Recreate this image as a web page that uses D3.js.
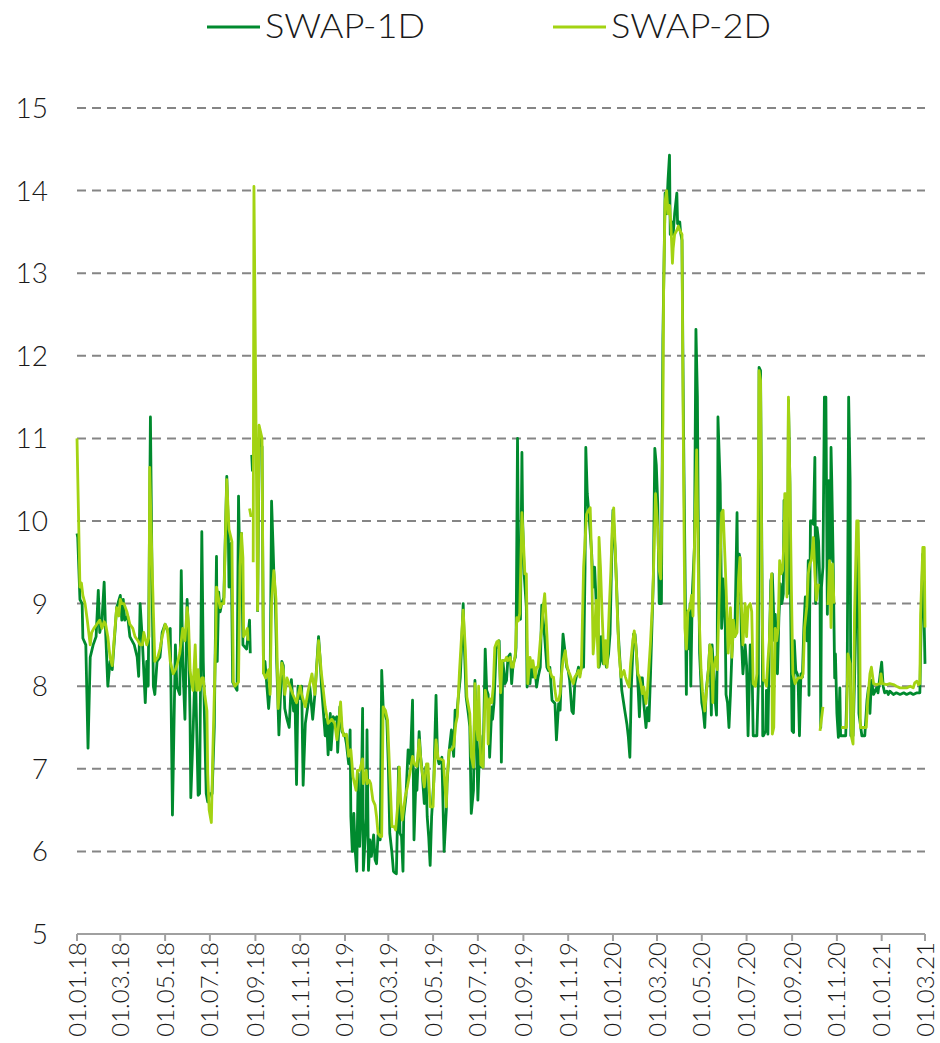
<!DOCTYPE html>
<html>
<head>
<meta charset="utf-8">
<script src="https://cdn.jsdelivr.net/npm/d3@7"></script>
<style>
  html, body { margin: 0; padding: 0; background: #fff; }
  svg text { font-family: "Lato", "Open Sans", sans-serif; font-weight: 300; fill: #1a1a1a; }
</style>
</head>
<body>
<svg id="chart" width="940" height="1043"></svg>
<script>
// Observations are [day offset from 1 Jan 2018, value]; null marks a missing stretch.
const startDate = "2018-01-01";
const endDate = "2021-03-01";
const seriesNames = ["SWAP-1D", "SWAP-2D"];
const yTicks = [5, 6, 7, 8, 9, 10, 11, 12, 13, 14, 15];

const swap1D = [[0,9.85],[1,9.8],[4,9.05],[7,9.0],[8,8.58],[12,8.5],[15,7.25],[18,8.35],[22,8.5],[26,8.6],[29,9.16],[31,8.65],[34,8.8],[37,9.26],[39,8.65],[42,8.0],[45,8.3],[48,8.2],[52,8.7],[54,8.95],[59,9.1],[61,8.8],[63,9.05],[65,8.8],[69,8.85],[72,8.6],[78,8.5],[82,8.35],[84,8.12],[86,9.0],[89,8.55],[93,7.8],[95,8.3],[97,8.0],[100,11.26],[102,9.5],[104,8.0],[106,7.9],[109,8.3],[113,8.35],[116,8.65],[120,8.75],[124,8.65],[127,8.7],[129,7.2],[130,6.44],[134,8.5],[136,8.0],[140,7.9],[142,9.4],[144,8.3],[147,7.6],[150,9.05],[152,8.6],[154,7.6],[155,6.65],[158,7.4],[161,8.3],[165,6.68],[167,6.7],[170,9.87],[172,8.3],[174,7.46],[176,6.7],[178,6.6],[181,6.7],[184,6.7],[187,7.5],[188,8.27],[190,9.57],[191,8.3],[193,9.14],[195,8.9],[197,9.0],[200,9.07],[204,10.54],[206,9.95],[207,9.2],[210,9.73],[212,8.05],[218,7.95],[220,10.3],[222,9.3],[224,9.85],[226,8.5],[231,8.45],[235,8.8],[236,8.4],[237,null],[238,10.8],[239,10.6],[240,null],[246,8.9],[248,11.0],[252,10.9],[254,8.16],[256,8.3],[261,7.73],[263,8.0],[265,10.24],[267,9.7],[268,9.4],[270,9.1],[272,8.3],[275,7.41],[279,8.3],[281,8.25],[283,7.73],[286,7.6],[289,7.5],[292,8.08],[295,7.7],[297,7.8],[299,6.81],[301,8.0],[304,7.85],[306,8.0],[308,6.8],[311,7.55],[315,7.8],[317,8.0],[321,7.6],[324,7.9],[329,8.6],[331,8.35],[333,8.0],[338,7.4],[340,7.6],[342,7.17],[345,7.67],[346,7.23],[349,7.63],[351,7.6],[354,7.63],[355,7.2],[358,7.75],[361,7.45],[365,7.4],[367,7.3],[370,7.06],[372,7.47],[373,6.42],[375,6.0],[377,6.46],[379,6.0],[381,5.76],[383,6.94],[385,6.06],[387,6.5],[389,7.73],[390,5.77],[394,6.4],[395,7.47],[397,5.77],[399,6.14],[401,5.94],[404,6.2],[406,5.9],[408,5.85],[410,6.2],[413,6.14],[415,8.19],[417,7.75],[419,7.67],[422,7.59],[424,7.06],[426,6.22],[429,5.98],[431,5.76],[433,5.74],[435,5.73],[438,7.02],[440,6.22],[442,6.18],[444,5.76],[445,6.42],[448,6.66],[451,7.23],[454,7.06],[457,7.83],[459,6.14],[462,6.98],[463,6.74],[466,7.45],[468,7.15],[470,6.98],[473,6.58],[475,7.02],[477,6.42],[479,6.18],[481,5.83],[483,6.42],[486,6.86],[489,7.89],[491,7.15],[493,7.06],[497,7.14],[500,6.0],[503,6.5],[504,6.82],[507,7.23],[510,7.47],[513,7.15],[515,7.71],[517,7.63],[519,7.83],[522,8.1],[524,8.52],[526,9.0],[527,8.64],[530,7.87],[533,7.67],[535,7.51],[537,6.46],[540,6.74],[542,8.07],[544,7.43],[546,6.62],[549,7.4],[551,7.02],[553,7.02],[556,8.45],[558,7.95],[560,7.9],[562,7.14],[565,7.75],[566,7.6],[568,7.8],[571,8.47],[573,8.47],[575,8.55],[577,7.87],[578,7.08],[580,8.31],[583,8.03],[585,8.07],[587,8.35],[590,8.39],[592,8.03],[594,8.27],[597,8.35],[598,8.47],[600,11.0],[602,8.83],[604,8.81],[606,10.83],[607,10.0],[609,9.36],[612,8.96],[613,7.99],[615,8.31],[617,8.03],[619,8.27],[621,8.11],[624,8.19],[626,7.99],[628,8.11],[631,8.23],[633,8.98],[635,8.79],[637,8.59],[640,8.23],[642,8.19],[644,8.23],[647,7.83],[651,7.79],[653,7.35],[656,7.79],[658,7.71],[660,8.23],[662,8.63],[665,8.39],[667,8.23],[669,8.19],[671,8.07],[674,7.7],[676,7.67],[678,8.03],[681,8.15],[683,8.23],[685,8.15],[687,8.23],[690,8.23],[692,9.44],[693,10.89],[695,10.33],[697,10.12],[701,9.6],[703,9.2],[705,9.44],[707,9.04],[710,8.63],[711,8.23],[713,8.31],[714,8.6],[717,8.27],[719,8.39],[721,8.23],[724,8.39],[726,8.63],[728,9.44],[730,10.13],[733,9.64],[735,9.2],[737,8.67],[740,8.23],[742,7.95],[744,7.83],[746,7.71],[749,7.54],[751,7.38],[753,7.14],[755,7.99],[758,8.63],[760,8.63],[762,8.4],[764,8.03],[766,7.63],[768,8.1],[770,8.1],[772,7.79],[775,7.5],[777,7.74],[779,7.58],[781,8.1],[783,8.7],[785,9.3],[787,10.88],[789,10.68],[791,10.2],[792,9.55],[793,9.0],[796,9.0],[798,12.2],[801,13.97],[803,13.72],[805,14.13],[807,14.43],[808,13.47],[810,13.62],[812,13.47],[814,13.72],[817,13.97],[818,13.6],[821,13.62],[822,13.5],[824,13.4],[826,11.2],[830,7.9],[831,8.9],[834,8.45],[835,9.0],[836,8.0],[838,9.1],[840,9.5],[841,9.7],[843,12.32],[845,11.5],[846,10.2],[848,8.4],[851,7.8],[853,7.7],[855,7.5],[857,7.95],[860,8.2],[862,8.5],[864,7.65],[865,8.5],[867,8.2],[869,7.85],[871,7.65],[872,8.3],[873,11.26],[876,10.45],[877,9.7],[878,8.7],[880,9.3],[883,8.7],[884,7.9],[886,7.8],[888,7.5],[890,7.9],[892,8.4],[894,8.7],[896,8.6],[899,10.1],[900,9.1],[902,9.6],[903,9.55],[905,8.55],[907,8.15],[910,8.5],[912,8.25],[914,7.4],[917,8.5],[919,8.45],[921,7.4],[924,7.4],[926,7.4],[928,8.03],[929,11.86],[931,11.82],[933,9.36],[934,7.4],[935,7.4],[938,7.46],[939,7.95],[941,7.42],[943,8.5],[945,9.28],[947,9.36],[948,9.12],[950,8.55],[951,8.87],[953,8.47],[954,8.15],[956,8.83],[958,9.24],[960,9.0],[962,9.12],[963,10.25],[965,10.09],[967,9.36],[968,9.12],[969,11.46],[971,10.45],[972,8.96],[974,7.46],[976,7.44],[977,8.55],[979,8.19],[981,8.15],[982,8.11],[984,7.4],[986,8.15],[988,8.11],[990,8.71],[992,9.08],[994,8.55],[996,9.52],[997,7.89],[999,10.0],[1001,10.0],[1003,9.96],[1005,10.77],[1006,9.0],[1008,9.92],[1010,9.76],[1012,9.16],[1013,7.5],[1014,9.2],[1016,9.44],[1018,11.5],[1020,11.5],[1022,8.87],[1024,10.49],[1026,9.52],[1027,10.89],[1028,10.49],[1030,9.48],[1032,8.1],[1033,8.39],[1035,7.67],[1037,7.38],[1039,7.98],[1040,7.4],[1043,7.4],[1047,7.4],[1049,8.07],[1051,11.5],[1053,10.49],[1054,7.4],[1057,7.4],[1059,8.07],[1061,8.87],[1062,9.76],[1064,9.52],[1065,7.67],[1069,7.4],[1073,7.4],[1076,7.83],[1078,7.98],[1080,7.67],[1082,8.07],[1085,7.9],[1087,7.94],[1089,7.98],[1091,7.92],[1094,8.15],[1096,8.29],[1098,8.0],[1100,7.92],[1103,7.94],[1105,7.9],[1107,7.94],[1112,7.9],[1116,7.92],[1121,7.9],[1126,7.92],[1130,7.9],[1135,7.92],[1139,7.9],[1144,7.92],[1148,7.92],[1150,8.87],[1152,9.6],[1154,8.71],[1155,8.27]];

const swap2D = [[0,11.0],[4,9.2],[6,9.25],[8,9.1],[11,9.0],[14,8.8],[18,8.5],[20,8.65],[23,8.7],[27,8.75],[31,8.8],[34,8.7],[37,8.78],[39,8.75],[42,8.6],[45,8.35],[48,8.25],[50,8.5],[54,8.95],[57,8.85],[59,9.05],[61,9.0],[64,9.0],[68,8.9],[72,8.75],[76,8.7],[79,8.6],[83,8.55],[86,8.5],[89,8.5],[91,8.65],[95,8.5],[98,8.6],[99,10.65],[102,9.55],[105,8.6],[106,8.3],[110,8.35],[113,8.45],[116,8.6],[120,8.75],[123,8.7],[127,8.3],[131,8.15],[134,8.2],[136,8.25],[140,8.4],[144,8.7],[147,8.55],[150,8.95],[152,8.75],[154,8.2],[156,8.05],[158,7.95],[161,8.5],[163,7.95],[165,8.2],[167,7.95],[170,8.1],[172,8.1],[174,7.9],[177,7.7],[178,6.95],[180,6.5],[183,6.35],[185,7.2],[189,8.58],[190,9.2],[192,9.1],[195,8.95],[197,9.0],[200,9.0],[204,10.5],[207,9.9],[211,9.75],[213,8.05],[215,8.0],[220,8.05],[222,9.45],[224,9.85],[226,9.55],[227,8.6],[230,8.65],[232,8.7],[233,8.55],[234,null],[235,10.15],[237,10.05],[238,null],[240,9.5],[241,14.05],[246,8.92],[248,11.16],[252,11.0],[254,8.16],[257,8.1],[261,8.2],[263,7.9],[265,9.0],[268,9.4],[271,9.05],[274,7.73],[277,8.1],[279,8.28],[281,8.2],[283,7.9],[286,8.1],[290,8.0],[294,7.9],[299,7.8],[304,8.0],[306,7.9],[311,7.75],[315,7.95],[320,8.15],[324,7.9],[329,8.55],[333,8.15],[338,7.75],[342,7.55],[347,7.6],[351,7.55],[354,7.35],[356,7.5],[359,7.81],[361,7.5],[363,7.4],[367,7.42],[370,7.15],[373,7.23],[376,6.9],[380,6.74],[382,6.98],[385,6.98],[389,7.12],[390,6.82],[394,6.98],[395,6.82],[398,6.86],[400,6.82],[403,6.62],[406,6.56],[408,6.42],[410,6.22],[413,6.18],[415,6.18],[417,7.75],[420,7.71],[423,7.59],[425,7.15],[429,6.3],[432,6.3],[434,6.26],[437,6.58],[439,7.02],[441,6.58],[443,6.38],[447,6.66],[450,6.78],[454,6.98],[457,7.15],[460,7.05],[463,7.03],[466,7.35],[469,7.03],[473,6.78],[476,7.06],[478,7.06],[481,6.54],[485,6.54],[486,6.86],[489,7.35],[492,7.12],[495,7.12],[499,7.1],[503,6.54],[504,6.86],[507,7.23],[510,7.23],[513,7.27],[516,7.55],[518,7.63],[521,8.19],[524,8.64],[526,8.92],[529,8.44],[531,7.87],[535,7.67],[537,7.15],[540,7.02],[542,8.03],[544,7.55],[546,7.35],[547,8.0],[550,7.05],[553,7.02],[556,7.95],[559,7.8],[560,7.3],[562,7.85],[565,7.8],[567,8.0],[569,8.47],[572,8.54],[574,8.55],[576,8.2],[577,7.92],[579,8.31],[583,8.31],[585,8.35],[587,8.31],[590,8.35],[592,8.23],[594,8.23],[597,8.39],[599,8.83],[601,8.79],[603,8.88],[606,10.1],[608,9.76],[610,9.36],[612,9.36],[614,8.03],[617,8.35],[619,8.23],[621,8.31],[624,8.1],[626,8.23],[628,8.23],[631,8.55],[633,8.71],[635,8.96],[637,9.12],[640,8.63],[642,8.23],[644,8.19],[647,8.11],[649,8.11],[651,7.95],[653,7.83],[656,7.83],[658,7.91],[660,8.15],[662,8.31],[665,8.43],[667,8.27],[669,8.19],[671,8.15],[674,8.07],[676,8.03],[678,8.11],[681,8.15],[683,8.19],[685,8.11],[687,8.23],[690,9.44],[692,9.76],[694,10.08],[696,10.12],[699,10.16],[701,9.52],[703,8.39],[705,8.63],[707,9.04],[710,8.23],[711,9.8],[713,9.44],[715,8.92],[718,8.27],[720,8.55],[722,8.23],[725,8.96],[727,9.36],[729,9.92],[731,10.16],[734,9.44],[736,8.88],[738,8.43],[741,8.11],[743,8.15],[745,8.19],[747,8.11],[750,8.03],[752,7.99],[754,8.27],[757,8.55],[759,8.67],[761,8.51],[764,8.15],[766,8.11],[768,8.03],[770,7.91],[772,7.99],[775,7.79],[777,7.95],[779,8.23],[781,8.51],[784,9.04],[786,9.64],[788,10.33],[791,9.9],[793,9.4],[795,9.3],[796,9.7],[798,11.2],[799,12.8],[801,13.87],[803,14.0],[805,13.72],[807,13.82],[809,13.57],[811,13.12],[812,13.3],[814,13.47],[817,13.52],[819,13.57],[821,13.52],[824,13.47],[825,11.97],[827,9.7],[828,8.7],[830,8.45],[832,8.9],[835,8.95],[837,9.1],[839,8.85],[841,9.7],[844,10.86],[845,10.2],[847,8.95],[850,8.2],[852,7.94],[855,7.7],[857,7.9],[860,8.2],[862,8.5],[864,8.45],[866,7.8],[867,8.2],[870,8.35],[872,8.2],[875,9.2],[878,10.1],[880,10.13],[883,9.45],[885,8.95],[887,8.4],[890,8.95],[892,8.35],[894,8.8],[896,8.6],[899,8.65],[901,9.3],[903,9.56],[905,8.96],[907,8.5],[910,9.0],[912,8.6],[914,8.96],[917,9.0],[919,8.9],[921,8.03],[924,8.0],[926,8.15],[928,10.5],[929,11.82],[931,11.7],[933,8.96],[935,8.07],[937,8.07],[939,8.0],[941,8.3],[943,8.55],[946,9.36],[947,7.42],[949,7.5],[951,8.7],[953,8.55],[955,8.7],[957,9.52],[959,9.36],[961,9.4],[963,9.76],[964,10.33],[965,10.33],[967,9.08],[969,11.5],[971,10.45],[973,9.2],[975,8.15],[978,8.03],[980,8.07],[982,8.1],[984,8.1],[987,8.1],[989,8.15],[991,8.71],[994,8.96],[996,9.36],[998,9.48],[1000,9.52],[1003,9.8],[1005,9.36],[1007,9.04],[1010,9.24],[1011,null],[1012,7.46],[1016,7.75],[1018,null],[1021,9.0],[1023,9.0],[1025,9.52],[1027,8.71],[1029,9.48],[1031,9.0],[1035,null],[1041,7.5],[1045,7.5],[1048,7.5],[1050,8.39],[1053,8.27],[1055,7.38],[1057,7.3],[1059,8.87],[1062,10.0],[1064,10.0],[1066,8.87],[1067,7.5],[1070,7.5],[1075,7.5],[1077,7.83],[1080,8.15],[1082,8.23],[1085,8.03],[1089,8.02],[1094,8.03],[1095,8.15],[1097,8.03],[1103,8.02],[1107,8.03],[1112,8.02],[1116,8.0],[1121,7.98],[1126,7.98],[1130,7.98],[1135,8.0],[1139,7.98],[1141,8.04],[1144,8.06],[1146,8.02],[1148,8.03],[1149,8.87],[1152,9.68],[1154,9.68],[1155,8.71]];

const colors = ["#008a2e", "#a3d312"];

const svg = d3.select("#chart");
const margin = { left: 77, right: 15, top: 108, bottom: 109 };
const width = 940, height = 1043;

const t0 = d3.utcParse("%Y-%m-%d")(startDate);
const t1 = d3.utcParse("%Y-%m-%d")(endDate);

const x = d3.scaleUtc().domain([t0, t1]).range([margin.left, width - margin.right]);
const y = d3.scaleLinear().domain([5, 15]).range([height - margin.bottom, margin.top]);

const toPoints = arr => arr.map(([d, v]) => ({ date: d3.utcDay.offset(t0, d), value: v }));

// Horizontal dashed grid
svg.append("g")
  .selectAll("line")
  .data(yTicks.filter(v => v > 5))
  .join("line")
  .attr("x1", x.range()[0])
  .attr("x2", x.range()[1])
  .attr("y1", d => y(d))
  .attr("y2", d => y(d))
  .attr("stroke", "#858585")
  .attr("stroke-width", 2)
  .attr("stroke-dasharray", "9,6");

// Y labels
svg.append("g")
  .selectAll("text")
  .data(yTicks)
  .join("text")
  .attr("x", 48)
  .attr("y", d => y(d))
  .attr("dy", "0.36em")
  .attr("text-anchor", "end")
  .attr("font-size", 28)
  .text(d => d);

// X axis baseline with downward ticks
const xTicks = d3.utcMonth.every(2).range(t0, d3.utcDay.offset(t1, 1));
const xAxis = svg.append("g");
xAxis.append("line")
  .attr("x1", x.range()[0]).attr("x2", x.range()[1])
  .attr("y1", y(5)).attr("y2", y(5))
  .attr("stroke", "#a0a0a0").attr("stroke-width", 2);
xAxis.selectAll("line.tick")
  .data(xTicks)
  .join("line")
  .attr("class", "tick")
  .attr("x1", d => x(d)).attr("x2", d => x(d))
  .attr("y1", y(5)).attr("y2", y(5) + 7)
  .attr("stroke", "#a0a0a0").attr("stroke-width", 2);
const fmt = d3.utcFormat("%d.%m.%y");
xAxis.selectAll("text")
  .data(xTicks)
  .join("text")
  .attr("transform", d => `translate(${x(d) + 8.5},${y(5) + 8}) rotate(-90)`)
  .attr("text-anchor", "end")
  .attr("font-size", 24)
  .text(d => fmt(d));

// Series lines
const line = d3.line()
  .defined(d => d.value !== null)
  .x(d => x(d.date))
  .y(d => y(d.value));

[swap1D, swap2D].forEach((arr, i) => {
  svg.append("path")
    .datum(toPoints(arr))
    .attr("fill", "none")
    .attr("stroke", colors[i])
    .attr("stroke-width", 2.8)
    .attr("stroke-linejoin", "round")
    .attr("stroke-linecap", "butt")
    .attr("d", line);
});

// Legend
const legendX = [207, 553];
seriesNames.forEach((name, i) => {
  const g = svg.append("g").attr("transform", `translate(${legendX[i]},0)`);
  g.append("line")
    .attr("x1", 0).attr("x2", 53)
    .attr("y1", 27).attr("y2", 27)
    .attr("stroke", colors[i]).attr("stroke-width", 3);
  g.append("text")
    .attr("x", 58).attr("y", 38)
    .attr("font-size", 33)
    .attr("textLength", 160)
    .attr("lengthAdjust", "spacingAndGlyphs")
    .text(name);
});
</script>
</body>
</html>
